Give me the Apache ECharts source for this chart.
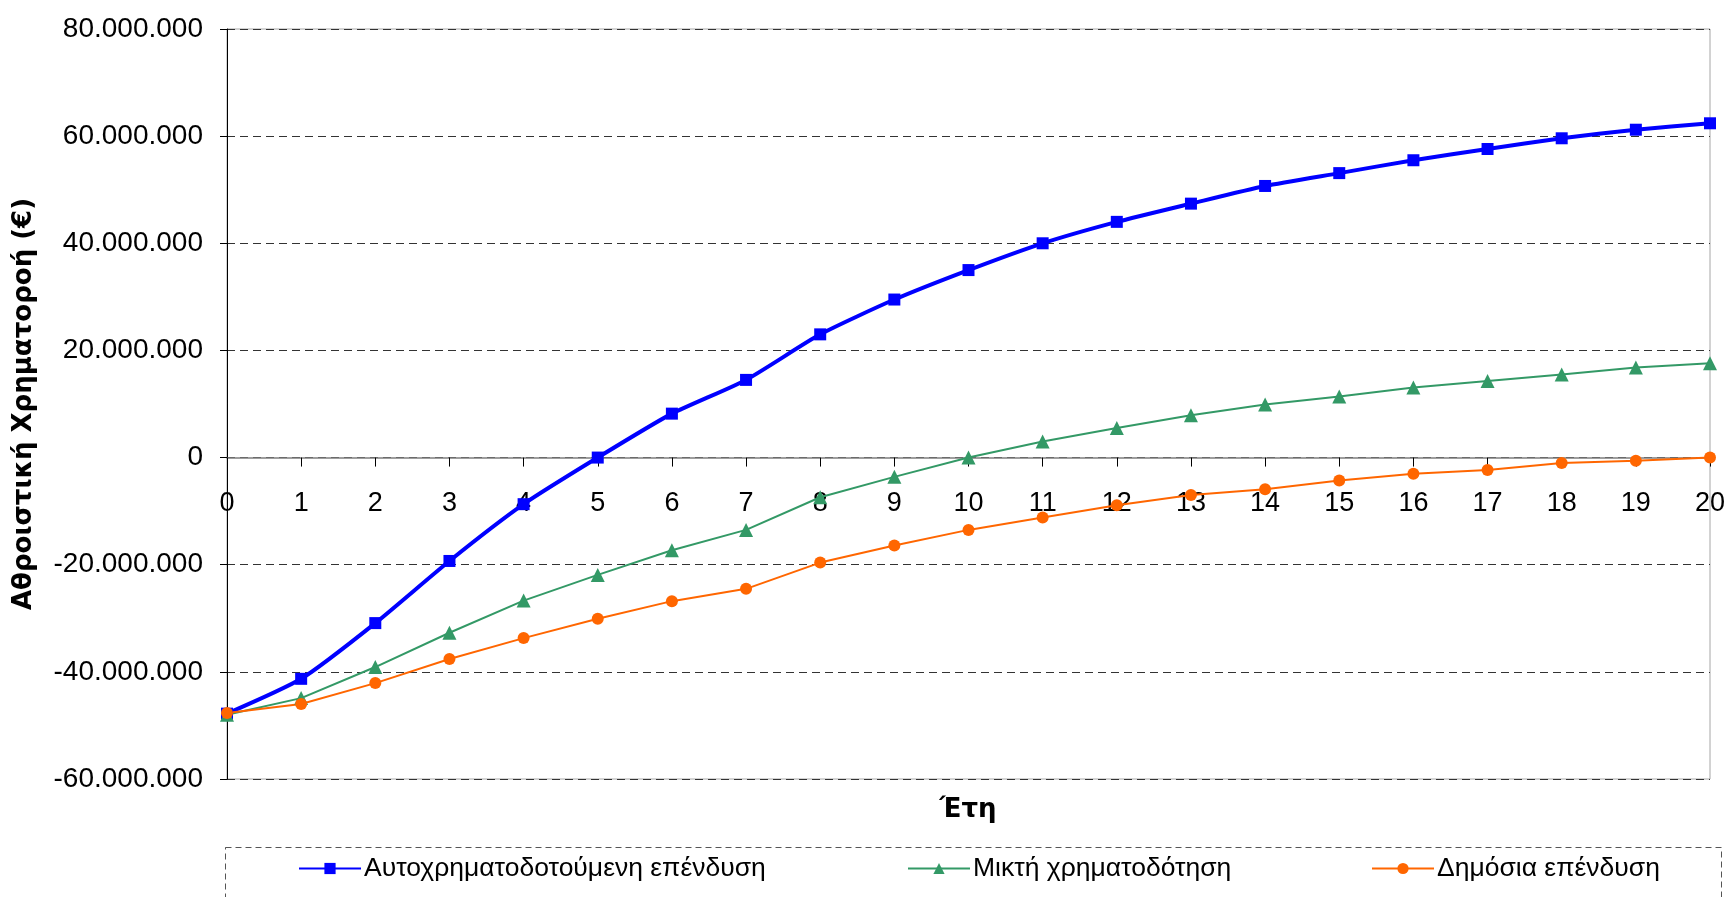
<!DOCTYPE html>
<html>
<head>
<meta charset="utf-8">
<style>
  html, body { margin: 0; padding: 0; background: #fff; }
  #chart { width: 1730px; height: 897px; }
</style>
<script src="https://cdn.jsdelivr.net/npm/echarts@6/dist/echarts.min.js"></script>
</head>
<body>
<div id="chart"></div>
<script>
// Years on the horizontal axis
const years = ['0','1','2','3','4','5','6','7','8','9','10','11','12','13','14','15','16','17','18','19','20'];

// Cumulative cash flow (€) per financing scheme
const selfFinanced = [-47800000, -41300000, -30900000, -19300000, -8700000, 0, 8200000, 14500000, 23000000, 29500000,
  35000000, 40000000, 44000000, 47400000, 50700000, 53100000, 55500000, 57600000, 59600000, 61200000, 62400000];
const mixedFinancing = [-48000000, -44900000, -39100000, -32700000, -26700000, -21900000, -17300000, -13500000, -7400000, -3600000,
  0, 3000000, 5500000, 7900000, 9900000, 11400000, 13100000, 14300000, 15500000, 16800000, 17600000];
const publicInvestment = [-47700000, -46000000, -42100000, -37600000, -33700000, -30100000, -26800000, -24500000, -19600000, -16400000,
  -13500000, -11200000, -8900000, -7000000, -5900000, -4300000, -3000000, -2300000, -1000000, -600000, 0];

const seriesNames = ['Αυτοχρηματοδοτούμενη επένδυση', 'Μικτή χρηματοδότηση', 'Δημόσια επένδυση'];
const yTitle = 'Αθροιστική Χρηματοροή (€)';
const xTitle = 'Έτη';

// Value axis range
const Y_MIN = -60000000, Y_MAX = 80000000, Y_STEP = 20000000;

const FONT = '"Liberation Sans", Arial, sans-serif';
const TITLE_FONT = '"DejaVu Sans", Verdana, sans-serif';

// Plot area box (px)
const GRID = { left: 227, right: 20, top: 29, bottom: 118 };
const CHART_H = 897;
const plotH = CHART_H - GRID.top - GRID.bottom;
// Lift the category axis from the bottom edge up to the zero line
const zeroLift = plotH * (0 - Y_MIN) / (Y_MAX - Y_MIN);

function dotted(v) {
  const neg = v < 0;
  const s = String(Math.abs(Math.round(v))).replace(/\B(?=(\d{3})+(?!\d))/g, '.');
  return (neg ? '-' : '') + s;
}

const legendBase = {
  top: 855,
  padding: 0,
  itemWidth: 62, itemHeight: 14,
  textStyle: { fontSize: 26.5, color: '#000', fontFamily: FONT, padding: [0, 0, 0, -2] }
};

const chart = echarts.init(document.getElementById('chart'), null, { renderer: 'canvas' });

chart.setOption({
  animation: false,
  backgroundColor: '#ffffff',
  textStyle: { fontFamily: FONT },
  grid: Object.assign({}, GRID, {
    show: true, borderColor: '#a6a6a6', borderWidth: 1, backgroundColor: 'transparent'
  }),
  xAxis: {
    type: 'category',
    data: years,
    boundaryGap: false,
    position: 'bottom',
    offset: -zeroLift,
    axisLine: { onZero: false, lineStyle: { color: '#7f7f7f', width: 1.5 } },
    axisTick: { show: true, length: 9, lineStyle: { color: '#000' } },
    axisLabel: { margin: 32, fontSize: 27, color: '#000', fontFamily: FONT },
    splitLine: { show: false }
  },
  yAxis: {
    type: 'value',
    min: Y_MIN, max: Y_MAX, interval: Y_STEP,
    name: yTitle,
    nameLocation: 'middle',
    nameGap: 190,
    nameTextStyle: { fontSize: 26, fontWeight: 'bold', color: '#000', fontFamily: TITLE_FONT },
    axisLine: { show: true, lineStyle: { color: '#000', width: 1 } },
    axisTick: { show: true, length: 7, lineStyle: { color: '#000' } },
    axisLabel: { margin: 24, fontSize: 28, color: '#000', fontFamily: FONT, formatter: dotted },
    splitLine: { show: true, lineStyle: { color: '#333', width: 1, type: [8, 5] } }
  },
  legend: [
    Object.assign({ left: 298, data: [seriesNames[0]] }, legendBase),
    Object.assign({ left: 907, data: [seriesNames[1]] }, legendBase),
    Object.assign({ left: 1371, data: [seriesNames[2]] }, legendBase)
  ],
  graphic: [
    {
      type: 'rect',
      shape: { x: 225.5, y: 847.5, width: 1496, height: 90 },
      style: { fill: 'none', stroke: '#555', lineWidth: 1, lineDash: [6, 4] },
      silent: true
    },
    {
      type: 'text',
      x: 968, y: 810,
      style: {
        text: xTitle, fontSize: 26, fontWeight: 'bold', fill: '#000',
        fontFamily: TITLE_FONT, align: 'center', verticalAlign: 'middle'
      }
    }
  ],
  series: [
    {
      name: seriesNames[0],
      type: 'line',
      data: selfFinanced,
      smooth: 0.2,
      symbol: 'rect',
      symbolSize: 12,
      lineStyle: { color: '#0000ff', width: 4 },
      itemStyle: { color: '#0000ff' }
    },
    {
      name: seriesNames[1],
      type: 'line',
      data: mixedFinancing,
      symbol: 'triangle',
      symbolSize: 14,
      lineStyle: { color: '#339966', width: 2 },
      itemStyle: { color: '#339966' }
    },
    {
      name: seriesNames[2],
      type: 'line',
      data: publicInvestment,
      symbol: 'circle',
      symbolSize: 12,
      lineStyle: { color: '#ff6600', width: 2 },
      itemStyle: { color: '#ff6600' }
    }
  ]
});
</script>
</body>
</html>
